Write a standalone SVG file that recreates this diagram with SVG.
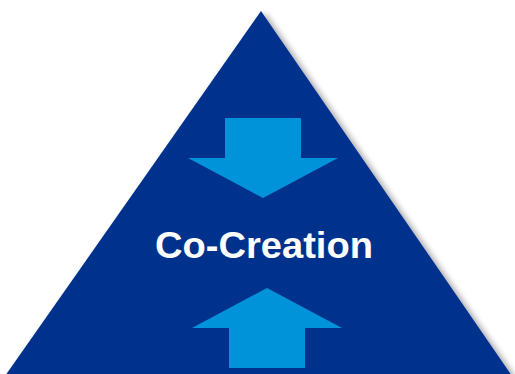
<svg xmlns="http://www.w3.org/2000/svg" width="515" height="374" viewBox="0 0 515 374">
<defs>
<filter id="sh" x="-10%" y="-10%" width="120%" height="120%">
<feGaussianBlur in="SourceAlpha" stdDeviation="3"/>
<feOffset dx="4" dy="2"/>
<feComponentTransfer><feFuncA type="linear" slope="0.35"/></feComponentTransfer>
<feMerge><feMergeNode/><feMergeNode in="SourceGraphic"/></feMerge>
</filter>
<style>
.arrow{fill:#0093d9}
.label{font-family:"Liberation Sans",Arial,sans-serif;font-weight:bold;fill:#ffffff}
</style>
</defs>
<rect width="515" height="374" fill="#ffffff"/>
<g id="triangle">
<polygon points="261,11 512,376 5,376" fill="#00338d" filter="url(#sh)"/>
</g>
<g id="arrow-down">
<polygon class="arrow" points="225,118 301,118 301,158 338,158 263,198 188,158 225,158"/>
</g>
<g id="label">
<text class="label" x="264" y="258" font-size="36" text-anchor="middle" textLength="218" lengthAdjust="spacingAndGlyphs">Co-Creation</text>
</g>
<g id="arrow-up">
<polygon class="arrow" points="267,288 342,328 305,328 305,368 229,368 229,328 192,328"/>
</g>
<g id="connectors"/>
</svg>
